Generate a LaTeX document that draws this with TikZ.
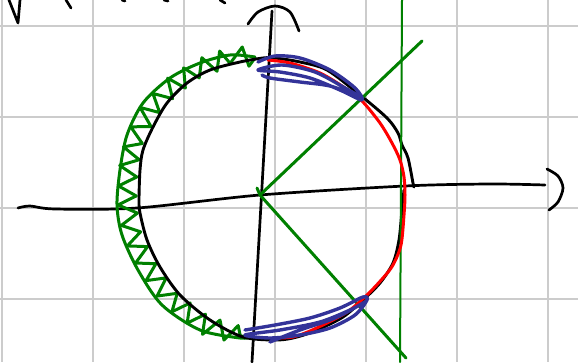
\documentclass[tikz,border=0pt]{standalone}
\usepackage{tikz}
\usetikzlibrary{decorations.pathmorphing}
\usepackage{xcolor}
\definecolor{gradecinza}{RGB}{204, 204, 204}
\definecolor{meuverde}{RGB}{0, 128, 0}
\definecolor{meuazul}{RGB}{51, 51, 153}

\begin{document}
\begin{tikzpicture}[
                x=1pt, y=-1pt,
                gridline/.style={gradecinza, line width=1.8pt},
                ink/.style={line cap=round, line join=round},
                axisline/.style={ink, black, line width=2.7pt},
                circleline/.style={ink, black, line width=2.9pt},
                redarc/.style={ink, red, line width=3pt},
                bluescribble/.style={ink, meuazul, line width=3.4pt},
                greenline/.style={ink, meuverde, line width=3pt},
                greenzig/.style={ink, meuverde, line width=3pt,
                    decorate, decoration={zigzag, amplitude=9pt, segment length=19pt}}
            ]
                \useasboundingbox (0,0) rectangle (578,362);
                % grid
                \foreach \gx in {2, 93, 184, 275, 366, 457, 548}
                    \draw[gridline] (\gx,0) -- (\gx,362);
                \foreach \gy in {26, 117, 208, 299}
                    \draw[gridline] (0,\gy) -- (578,\gy);
                % cut-off marks at the top edge
                \draw[axisline] (9,0) -- (18,23) -- (20,0);
                \draw[axisline] (66,0) -- (71,8);
                \draw[axisline] (122,0) -- (125,1);
                \draw[axisline] (164,0) -- (168,1);
                \draw[axisline] (220,0) -- (225,3);
                % axes
                \coordinate (O) at (260,195);
                \draw[axisline] plot[smooth] coordinates {(18,208) (30,206) (55,209) (137,208) (O) (405,186) (490,184) (545,185)};
                \draw[axisline] plot[smooth] coordinates {(547,169) (558,176) (563,188) (558,202) (549,210)};
                \draw[axisline] (272,11) -- (252,362);
                \draw[axisline] plot[smooth] coordinates {(248,24) (258,12) (275,6) (290,12) (299,31)};
                % green zigzag on the left
                \draw[greenline] plot[smooth] coordinates {(255,57) (230,55) (200,63) (170,78) (143,103) (127,135) (120,170) (117,205) (122,235) (138,270) (162,305) (200,330) (240,338) (250,337)};
                \draw[greenzig] (255,58) -- (235,55) -- (200,68) -- (172,86) -- (149,111) -- (134,140) -- (128,170) -- (127,205) -- (132,235) -- (148,268) -- (171,300) -- (205,325) -- (245,337);
                % circle
                \draw[circleline] plot[smooth] coordinates {(404,190) (402,210) (399,240) (393,263) (380,283) (363,300) (343,317) (317,330) (297,337) (277,340) (243,337) (210,320) (180,295) (160,267) (147,240) (140,213) (139,200) (140,170) (143,150) (153,127) (167,103) (187,83) (210,70) (240,62) (263,58) (275,58) (300,62) (327,70) (360,95) (387,118) (398,133) (402,145) (408,158) (413,183) (414,187)};
                % green lines
                \draw[greenline] (O) -- (422,41);
                \draw[greenline] (O) -- (406,358);
                \draw[greenline, line width=2pt] (402,0) -- (400,362);
                \draw[greenline] (257,188) -- (O);
                % red arc
                \draw[redarc] plot[smooth] coordinates {(268,60) (290,63) (320,73) (345,88) (362,101) (380,123) (392,143) (400,160) (404,177) (405,195) (404,215) (401,245) (393,265) (383,278) (367,295) (350,310) (333,320) (310,331) (293,337) (278,338)};
                % blue scribbles
                \draw[bluescribble] plot[smooth] coordinates {(258,62) (275,56) (300,58) (330,70) (355,88) (362,100) (340,90) (310,78) (280,72) (258,70) (282,65) (315,72) (345,88) (358,96) (330,86) (300,82) (270,78) (262,75)};
                \draw[bluescribble] plot[smooth] coordinates {(245,330) (275,325) (310,318) (340,308) (363,297) (367,300) (355,315) (330,328) (300,335) (270,338) (245,335) (280,330) (320,322) (350,310) (365,302) (335,318) (300,330) (270,342)};
            \end{tikzpicture}
\end{document}
